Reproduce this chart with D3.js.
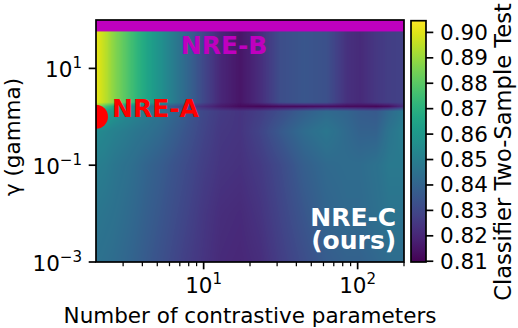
<!DOCTYPE html>
<html><head><meta charset="utf-8">
<script src="https://cdn.jsdelivr.net/npm/d3@7"></script>
<style>
html,body{margin:0;padding:0;background:#fff;}
svg{display:block;font-family:"DejaVu Sans",sans-serif;}
</style></head><body>
<svg id="chart" width="518" height="328"></svg>
<script>
// ---- data ----
const kValues = [2, 2.3, 2.6, 3.1, 3.6, 4.3, 5.3, 6.4, 7.8, 10, 12.9, 17.3, 23.4, 31.6, 45, 62.7, 85, 104, 132, 160, 200];
const gammaValues = [0.001, 0.01, 0.1, 0.5, 1.3, 1.64, 2.0, 100];
const rowG0001 = [0.845,0.844,0.843,0.841,0.839,0.836,0.833,0.830,0.827,0.824,0.821,0.820,0.822,0.827,0.832,0.837,0.839,0.839,0.841,0.843,0.843];
const rowG001  = [0.847,0.846,0.845,0.843,0.841,0.838,0.835,0.832,0.829,0.825,0.822,0.821,0.824,0.829,0.835,0.840,0.842,0.842,0.844,0.846,0.846];
const rowG01   = [0.850,0.849,0.847,0.845,0.843,0.840,0.837,0.834,0.831,0.827,0.824,0.823,0.826,0.831,0.838,0.842,0.843,0.843,0.845,0.848,0.848];
const rowG05   = [0.855,0.853,0.851,0.849,0.847,0.845,0.842,0.838,0.834,0.829,0.825,0.824,0.829,0.836,0.843,0.847,0.842,0.839,0.839,0.846,0.850];
const rowG13   = [0.872,0.865,0.860,0.855,0.852,0.849,0.845,0.841,0.836,0.830,0.826,0.824,0.827,0.832,0.838,0.842,0.840,0.837,0.836,0.842,0.848];
const rowG164  = [0.890,0.878,0.868,0.858,0.852,0.846,0.840,0.835,0.828,0.822,0.816,0.812,0.811,0.812,0.812,0.813,0.812,0.812,0.811,0.813,0.822];
const rowG2    = [0.902,0.895,0.888,0.880,0.873,0.865,0.857,0.849,0.841,0.830,0.820,0.815,0.822,0.832,0.835,0.833,0.823,0.821,0.825,0.827,0.828];
const rowG100  = [0.902,0.895,0.888,0.880,0.873,0.865,0.857,0.849,0.841,0.830,0.820,0.815,0.822,0.832,0.835,0.833,0.823,0.821,0.825,0.827,0.828];
const c2stGrid = [rowG0001, rowG001, rowG01, rowG05, rowG13, rowG164, rowG2, rowG100];

const colorDomain = [0.8097, 0.9046];
const colorTicks = [0.81, 0.82, 0.83, 0.84, 0.85, 0.86, 0.87, 0.88, 0.89, 0.90];
const xMajorTicks = [10, 100];
const xMinorTicks = [3,4,5,6,7,8,9,20,30,40,50,60,70,80,90,200];
const yMajorTicks = [1e-3, 1e-1, 1e1];
const xDomain = [2, 200];
const yDomain = [1e-3, 1e2];
const nreA = {k: 2, gamma: 1};
const nreBGamma = [58, 100];
const labels = {
  x: "Number of contrastive parameters",
  y: "γ (gamma)",
  c: "Classifier Two-Sample Test"
};
const annotations = [
  {text: ["NRE-B"], k: 7.1, gamma: 19.5, color: "#bf00bf", anchor: "start"},
  {text: ["NRE-A"], k: 2.54, gamma: 1.0, color: "#ff0000", anchor: "start"},
  {text: ["NRE-C", "(ours)"], k: 178, gamma: 0.0055, color: "#ffffff", anchor: "end"}
];

// ---- layout ----
const L = 96, R = 404, T = 20, B = 262;
const svg = d3.select("#chart");
const x = d3.scaleLog().domain(xDomain).range([L, R]);
const y = d3.scaleLog().domain(yDomain).range([B, T]);
const color = d3.scaleSequential(d3.interpolateViridis).domain(colorDomain);

// ---- heatmap (bilinear shading of the grid in log-log space) ----
const lk = kValues.map(Math.log10), lg = gammaValues.map(Math.log10);
function locate(arr, v) {
  let i = d3.bisectRight(arr, v) - 1;
  i = Math.max(0, Math.min(arr.length - 2, i));
  let t = (v - arr[i]) / (arr[i + 1] - arr[i]);
  t = Math.max(0, Math.min(1, t));
  return [i, t];
}
const W = R - L, H = B - T;
const cv = document.createElement("canvas");
cv.width = W; cv.height = H;
const ctx = cv.getContext("2d");
const img = ctx.createImageData(W, H);
for (let py = 0; py < H; py++) {
  const g = Math.log10(y.invert(T + py + 0.5));
  const [j, u] = locate(lg, g);
  for (let px = 0; px < W; px++) {
    const k = Math.log10(x.invert(L + px + 0.5));
    const [i, t] = locate(lk, k);
    const v = (1 - u) * ((1 - t) * c2stGrid[j][i] + t * c2stGrid[j][i + 1]) +
              u * ((1 - t) * c2stGrid[j + 1][i] + t * c2stGrid[j + 1][i + 1]);
    const c = d3.rgb(color(v));
    const o = (py * W + px) * 4;
    img.data[o] = c.r; img.data[o + 1] = c.g; img.data[o + 2] = c.b; img.data[o + 3] = 255;
  }
}
ctx.putImageData(img, 0, 0);
svg.append("image").attr("x", L).attr("y", T).attr("width", W).attr("height", H)
  .attr("href", cv.toDataURL());

svg.append("clipPath").attr("id", "plotclip").append("rect")
  .attr("x", L).attr("y", T).attr("width", W).attr("height", H);

// NRE-B band
svg.append("rect").attr("clip-path", "url(#plotclip)")
  .attr("x", x(xDomain[0])).attr("width", x(xDomain[1]) - x(xDomain[0]))
  .attr("y", y(nreBGamma[1])).attr("height", y(nreBGamma[0]) - y(nreBGamma[1]))
  .attr("fill", "#bf00bf");

// NRE-A point
svg.append("circle").attr("clip-path", "url(#plotclip)")
  .attr("cx", x(nreA.k)).attr("cy", y(nreA.gamma)).attr("r", 12).attr("fill", "#ff0000");

// annotations
annotations.forEach(a => {
  const t = svg.append("text").attr("x", x(a.k)).attr("y", y(a.gamma))
    .attr("fill", a.color).attr("font-weight", "bold").attr("font-size", 25)
    .attr("text-anchor", a.anchor);
  a.text.forEach((s, idx) => {
    t.append("tspan").attr("x", x(a.k)).attr("dy", idx === 0 ? 0 : 23).text(s);
  });
});

// frame
svg.append("rect").attr("x", L).attr("y", T).attr("width", W).attr("height", H)
  .attr("fill", "none").attr("stroke", "#000").attr("stroke-width", 1.7);

// ---- axes ----
const FS = 21.5;
function powLabel(sel, v) {
  const e = Math.round(Math.log10(v));
  sel.append("tspan").text("10");
  sel.append("tspan").attr("font-size", FS * 0.7).attr("dy", -9)
    .text(e < 0 ? "\u2212" + Math.abs(e) : String(e));
}
const xAxis = svg.append("g");
xMinorTicks.forEach(v => xAxis.append("line").attr("x1", x(v)).attr("x2", x(v))
  .attr("y1", B).attr("y2", B + 4.2).attr("stroke", "#000").attr("stroke-width", 1.25));
xMajorTicks.forEach(v => {
  xAxis.append("line").attr("x1", x(v)).attr("x2", x(v)).attr("y1", B).attr("y2", B + 7.3)
    .attr("stroke", "#000").attr("stroke-width", 1.7);
  const t = xAxis.append("text").attr("x", x(v)).attr("y", 293).attr("font-size", FS)
    .attr("text-anchor", "middle");
  powLabel(t, v);
});
const yAxis = svg.append("g");
yMajorTicks.forEach(v => {
  yAxis.append("line").attr("x1", L - 7.3).attr("x2", L).attr("y1", y(v)).attr("y2", y(v))
    .attr("stroke", "#000").attr("stroke-width", 1.7);
  const t = yAxis.append("text").attr("x", L - 14).attr("y", y(v) + 8.5).attr("font-size", FS)
    .attr("text-anchor", "end");
  powLabel(t, v);
});
svg.append("text").attr("x", (L + R) / 2).attr("y", 323).attr("font-size", FS)
  .attr("text-anchor", "middle").text(labels.x);
svg.append("text").attr("transform", `translate(20,137) rotate(-90)`)
  .attr("font-size", FS).attr("text-anchor", "middle").text(labels.y);

// ---- colorbar ----
const CL = 411, CR = 426;
const cy = d3.scaleLinear().domain(colorDomain).range([B, T + 0.7]);
const grad = svg.append("defs").append("linearGradient").attr("id", "cbgrad")
  .attr("x1", 0).attr("y1", 1).attr("x2", 0).attr("y2", 0);
d3.range(0, 1.0001, 0.05).forEach(s => grad.append("stop")
  .attr("offset", s).attr("stop-color", d3.interpolateViridis(s)));
svg.append("rect").attr("x", CL).attr("y", cy(colorDomain[1])).attr("width", CR - CL)
  .attr("height", cy(colorDomain[0]) - cy(colorDomain[1])).attr("fill", "url(#cbgrad)")
  .attr("stroke", "#000").attr("stroke-width", 1.7);
colorTicks.forEach(v => {
  svg.append("line").attr("x1", CR).attr("x2", CR + 7.3).attr("y1", cy(v)).attr("y2", cy(v))
    .attr("stroke", "#000").attr("stroke-width", 1.7);
  svg.append("text").attr("x", CR + 14).attr("y", cy(v) + 7.5).attr("font-size", FS)
    .text(v.toFixed(2));
});
svg.append("text").attr("transform", `translate(511,152) rotate(-90)`)
  .attr("font-size", 22.6).attr("text-anchor", "middle").text(labels.c);
</script>
</body></html>
